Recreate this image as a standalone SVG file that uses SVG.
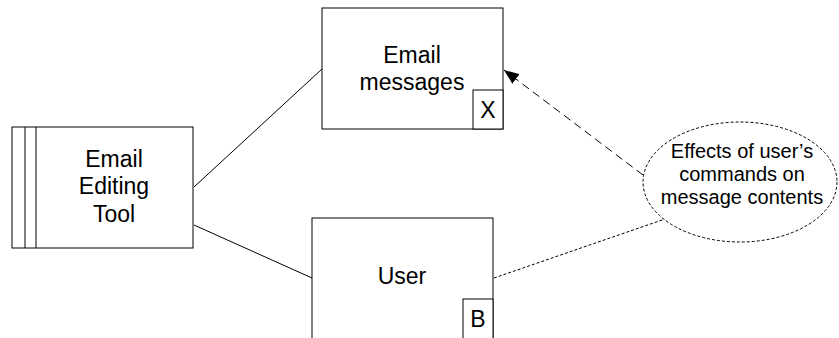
<svg xmlns="http://www.w3.org/2000/svg" width="839" height="338" viewBox="0 0 839 338">
<defs>
<style>
.box{fill:#fff;stroke:#000;stroke-width:1}
.t{font-family:"Liberation Sans",Arial,sans-serif;font-size:23px;fill:#000;text-anchor:middle}
.s{font-family:"Liberation Sans",Arial,sans-serif;font-size:20px;fill:#000;text-anchor:middle}
.c{fill:none;stroke:#000;stroke-width:1}
</style>
<marker id="ah" markerWidth="16" markerHeight="12" refX="15" refY="6" orient="auto" markerUnits="userSpaceOnUse">
<path d="M0,0 L15,6 L0,12 z" fill="#000"/>
</marker>
</defs>
<rect width="839" height="338" fill="#fff"/>
<g id="connectors">
<line class="c" x1="194" y1="187" x2="322" y2="69"/>
<line class="c" x1="194" y1="225" x2="312" y2="278"/>
<line class="c" x1="643" y1="175" x2="504" y2="70" stroke-dasharray="8,5" marker-end="url(#ah)"/>
<line class="c" x1="494" y1="278" x2="665" y2="219" stroke-dasharray="3,2"/>
</g>
<g id="tool">
<rect class="box" x="12" y="127" width="181" height="121"/>
<line class="c" x1="25" y1="127" x2="25" y2="248"/>
<line class="c" x1="36" y1="127" x2="36" y2="248"/>
<text class="t" x="114" y="167">Email</text>
<text class="t" x="114" y="194">Editing</text>
<text class="t" x="114" y="222">Tool</text>
</g>
<g id="messages">
<rect class="box" x="322" y="8" width="181" height="121"/>
<rect class="box" x="473" y="90" width="30" height="39"/>
<text class="t" x="412" y="63">Email</text>
<text class="t" x="412" y="90">messages</text>
<text class="t" x="488" y="118">X</text>
</g>
<g id="user">
<rect class="box" x="312" y="218" width="181" height="130"/>
<rect class="box" x="463" y="299" width="30" height="49"/>
<text class="t" x="402" y="284">User</text>
<text class="t" x="478" y="327">B</text>
</g>
<g id="effects">
<ellipse cx="740" cy="182" rx="97" ry="60" fill="#fff" stroke="#000" stroke-width="1" stroke-dasharray="3,2"/>
<text class="s" x="742" y="158">Effects of user’s</text>
<text class="s" x="742" y="181">commands on</text>
<text class="s" x="742" y="204">message contents</text>
</g>
</svg>
